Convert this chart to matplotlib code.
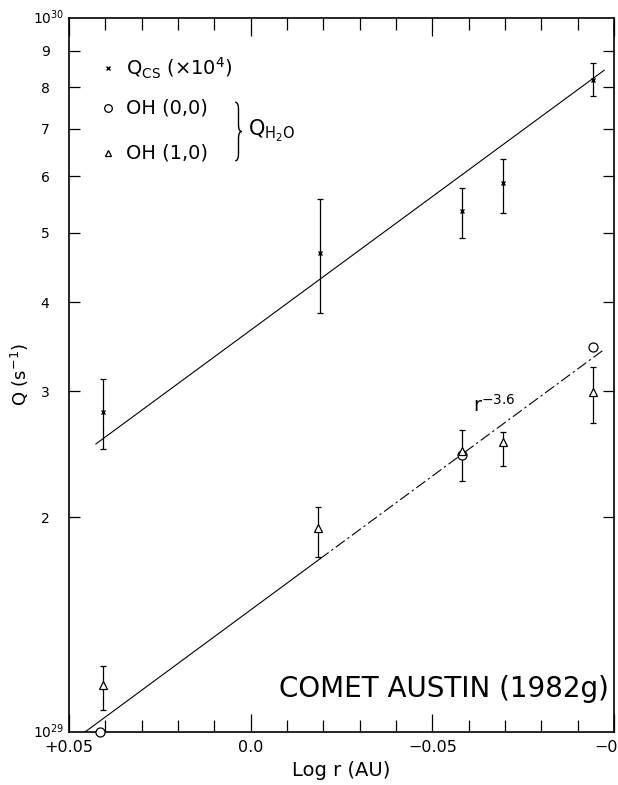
import numpy as np
import matplotlib
matplotlib.use("Agg")
import matplotlib.pyplot as plt
from matplotlib.ticker import FixedLocator, NullLocator
from matplotlib.path import Path
from matplotlib.patches import PathPatch

plt.rcParams["font.family"] = ["DejaVu Sans"]
plt.rcParams["mathtext.fontset"] = "dejavusans"
plt.rcParams["mathtext.default"] = "regular"

# log r (AU) of the five observations
log_r = np.array([0.0406, -0.0191, -0.0582, -0.0695, -0.0942])

# Q_CS (x 1e4), s^-1
q_cs = np.array([2.81e29, 4.69e29, 5.37e29, 5.87e29, 8.19e29])
q_cs_hi = np.array([3.12e29, 5.58e29, 5.78e29, 6.35e29, 8.65e29])
q_cs_lo = np.array([2.49e29, 3.86e29, 4.92e29, 5.33e29, 7.78e29])

# OH (0,0) -> Q_H2O
r_oh00 = np.array([0.0415, -0.0582, -0.0942])
q_oh00 = np.array([1.0e29, 2.44e29, 3.46e29])

# OH (1,0) -> Q_H2O
r_oh10 = np.array([0.0406, -0.0185, -0.0582, -0.0695, -0.0942])
q_oh10 = np.array([1.164e29, 1.93e29, 2.475e29, 2.547e29, 2.99e29])
q_oh10_hi = np.array([1.237e29, 2.066e29, 2.65e29, 2.63e29, 3.24e29])
q_oh10_lo = np.array([1.073e29, 1.758e29, 2.25e29, 2.36e29, 2.71e29])

# fitted lines (end points)
fit_cs_r = np.array([0.0426, -0.0973])
fit_cs_q = np.array([2.532e29, 8.45e29])
fit_h2o_r = np.array([0.0456, -0.0975])
fit_h2o_q = np.array([1.0e29, 3.44e29])
fit_h2o_break = -0.019  # solid part ends here, dashed beyond

fig = plt.figure(figsize=(6.18, 7.85), dpi=100)
ax = fig.add_axes([69 / 618, 53 / 785, 545 / 618, 714 / 785])

ax.set_yscale("log")
ax.set_ylim(1e29, 1e30)
ax.set_xlim(0.05, -0.1)

# fit lines
ax.plot(fit_cs_r, fit_cs_q, color="black", lw=0.8)
lq = np.log10(fit_h2o_q)
q_break = 10 ** np.interp(-fit_h2o_break, -fit_h2o_r, lq)
ax.plot([fit_h2o_r[0], fit_h2o_break], [fit_h2o_q[0], q_break], color="black", lw=0.8)
ax.plot([fit_h2o_break, fit_h2o_r[1]], [q_break, fit_h2o_q[1]], color="black", lw=0.8,
        dashes=(10, 3, 2, 3))

# error bars
ax.errorbar(log_r, q_cs, yerr=[q_cs - q_cs_lo, q_cs_hi - q_cs], fmt="none",
            ecolor="black", elinewidth=0.9, capsize=2.5, capthick=0.9)
ax.errorbar(r_oh10, q_oh10, yerr=[q_oh10 - q_oh10_lo, q_oh10_hi - q_oh10], fmt="none",
            ecolor="black", elinewidth=0.9, capsize=2.5, capthick=0.9)

# markers
ax.plot(log_r, q_cs, ls="none", marker="x", ms=3.5, mew=1.0, color="black", zorder=4)
ax.plot(r_oh00, q_oh00, ls="none", marker="o", ms=6.5, mew=0.9, mfc="white",
        mec="black", zorder=4, clip_on=False)
ax.plot(r_oh10, q_oh10, ls="none", marker="^", ms=5.5, mew=0.9, mfc="white",
        mec="black", zorder=5)

# ticks
ax.yaxis.set_major_locator(FixedLocator([k * 1e29 for k in range(2, 10)]))
ax.yaxis.set_minor_locator(NullLocator())
ax.set_yticklabels([str(k) for k in range(2, 10)], fontsize=10)
ax.xaxis.set_major_locator(FixedLocator([0.05, 0.0, -0.05, -0.1]))
ax.xaxis.set_minor_locator(FixedLocator(np.arange(-0.1, 0.051, 0.01)))
ax.set_xticklabels(["+0.05", "0.0", "\u22120.05", "\u22120.1"], fontsize=11.5)
ax.tick_params(axis="x", which="major", direction="in", length=13, width=0.9,
               top=True, bottom=True, pad=6)
ax.tick_params(axis="x", which="minor", direction="in", length=8.5, width=0.9,
               top=True, bottom=True)
ax.tick_params(axis="y", which="major", direction="in", length=8, width=0.9,
               left=True, right=True, pad=14)
for s in ax.spines.values():
    s.set_linewidth(1.2)

ax.text(-0.008, 1.0, "10$^{30}$", transform=ax.transAxes, ha="right", va="center",
        fontsize=10)
ax.text(-0.008, 0.0, "10$^{29}$", transform=ax.transAxes, ha="right", va="center",
        fontsize=10)

# legend (hand drawn as in the original)
ax.plot([0.0716], [0.930], transform=ax.transAxes, marker="x", ms=3.5, mew=1.0,
        color="black", ls="none")
ax.plot([0.0716], [0.874], transform=ax.transAxes, marker="o", ms=5.5, mew=0.9,
        mfc="none", mec="black", ls="none")
ax.plot([0.0716], [0.811], transform=ax.transAxes, marker="^", ms=5, mew=0.9,
        mfc="none", mec="black", ls="none")
ax.text(0.105, 0.930, "Q$_{CS}$ ($\\times$10$^{4}$)", transform=ax.transAxes,
        fontsize=14, va="center")
ax.text(0.105, 0.874, "OH (0,0)", transform=ax.transAxes, fontsize=14, va="center")
ax.text(0.105, 0.811, "OH (1,0)", transform=ax.transAxes, fontsize=14, va="center")

# curly brace joining the two OH entries
bx, bw, yt, yb = 0.305, 0.012, 0.882, 0.800
ym = (yt + yb) / 2
verts = [(bx, yt), (bx + bw / 2, yt), (bx + bw / 2, yt - 0.01),
         (bx + bw / 2, ym + 0.01), (bx + bw / 2, ym), (bx + bw, ym),
         (bx + bw / 2, ym), (bx + bw / 2, ym - 0.01),
         (bx + bw / 2, yb + 0.01), (bx + bw / 2, yb), (bx, yb)]
codes = [Path.MOVETO, Path.CURVE3, Path.CURVE3, Path.LINETO, Path.CURVE3, Path.CURVE3,
         Path.CURVE3, Path.CURVE3, Path.LINETO, Path.CURVE3, Path.CURVE3]
ax.add_patch(PathPatch(Path(verts, codes), transform=ax.transAxes, fc="none",
                       ec="black", lw=1.0))
ax.text(0.328, 0.842, "Q$_{H_2O}$", transform=ax.transAxes, fontsize=15,
        va="center")

ax.text(-0.0612, 2.87e29, "r$^{-3.6}$", fontsize=14, va="center")
ax.text(0.99, 0.060, "COMET AUSTIN (1982g)", transform=ax.transAxes, fontsize=20,
        ha="right", va="center")

ax.set_xlabel("Log r (AU)", fontsize=14, labelpad=4)
fig.text(20 / 618, 410 / 785, "Q (s$^{-1}$)", fontsize=13, ha="center", va="center",
         rotation=90)

fig.savefig("out.png", dpi=100)
